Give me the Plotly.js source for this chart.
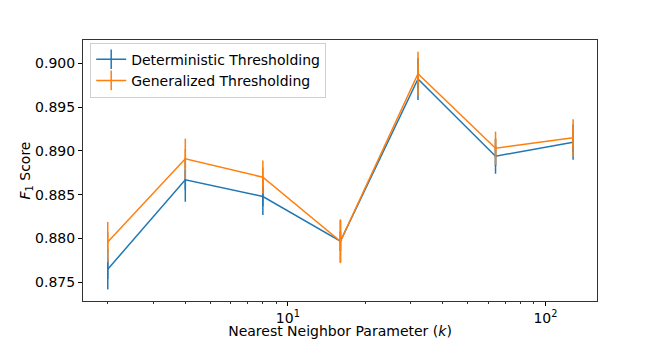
<!DOCTYPE html>
<html>
<head>
<meta charset="utf-8">
<script src="https://cdn.plot.ly/plotly-3.0.1.min.js"></script>
<style>
  html, body { margin: 0; padding: 0; background: #fff; }
  #chart { width: 664px; height: 339px; }
</style>
</head>
<body>
<div id="chart"></div>
<script>
// nearest neighbor parameter k
var k = [2, 4, 8, 16, 32, 64, 128];

// deterministic thresholding
var detF1 = [0.8765, 0.8867, 0.8848, 0.8797, 0.8982, 0.8894, 0.8910];
var detErr = [0.0023, 0.0025, 0.0021, 0.0024, 0.0024, 0.0020, 0.0020];

// generalized thresholding
var genF1 = [0.8796, 0.8891, 0.8870, 0.8797, 0.8988, 0.8903, 0.8915];
var genErr = [0.0023, 0.0023, 0.0019, 0.0025, 0.0025, 0.0019, 0.0021];

var yTicks = [0.875, 0.880, 0.885, 0.890, 0.895, 0.900];
var xTicks = [10, 100];
var xTickText = ['10<sup>1</sup>', '10<sup>2</sup>'];
var xMinor = [2, 3, 4, 5, 6, 7, 8, 9, 20, 30, 40, 50, 60, 70, 80, 90, 200];

var blue = '#1f77b4';
var orange = '#ff7f0e';

function series(name, y, err, color) {
    return {
        x : k,
        y : y,
        name : name,
        type : 'scatter',
        mode : 'lines+markers',
        line : {color : color, width : 1.5},
        marker : {symbol : 'line-ns', size : 14, line : {color : color, width : 1.5}},
        error_y : {type : 'data', array : err, visible : true, color : color, thickness : 1.5, width : 0}
    };
}

var data = [
    series('Deterministic Thresholding', detF1, detErr, blue),
    series('Generalized Thresholding', genF1, genErr, orange)
];

var layout = {
    width : 664,
    height : 339,
    autosize : false,
    margin : {l : 83, r : 67, t : 40, b : 38},
    paper_bgcolor : '#fff',
    plot_bgcolor : '#fff',
    font : {family : 'DejaVu Sans', size : 14, color : '#000'},
    showlegend : true,
    legend : {
        x : 0.014, y : 0.99, xanchor : 'left', yanchor : 'top',
        bgcolor : 'rgba(255,255,255,0.8)', bordercolor : '#d0d0d0', borderwidth : 1,
        font : {size : 14}, tracegroupgap : 0
    },
    xaxis : {
        type : 'log',
        range : [0.205, 2.2],
        tickmode : 'array',
        tickvals : xTicks,
        ticktext : xTickText,
        ticks : 'outside', ticklen : 4, tickwidth : 1, tickcolor : '#000',
        minor : {tickmode : 'array', tickvals : xMinor, ticks : 'outside', ticklen : 2, tickwidth : 0.8, tickcolor : '#000'},
        showgrid : false, zeroline : false,
        showline : true, linecolor : '#333', linewidth : 1, mirror : true,
        title : {text : 'Nearest Neighbor Parameter (<i>k</i>)', font : {size : 14}, standoff : 0}
    },
    yaxis : {
        range : [0.87288, 0.90265],
        tickmode : 'array',
        tickvals : yTicks,
        tickformat : '.3f',
        ticks : 'outside', ticklen : 4, tickwidth : 1, tickcolor : '#000',
        showgrid : false, zeroline : false,
        showline : true, linecolor : '#333', linewidth : 1, mirror : true,
        title : {text : '<i>F</i><sub>1</sub> Score', font : {size : 14}, standoff : 0}
    }
};

Plotly.newPlot('chart', data, layout, {displayModeBar : false, staticPlot : true});
</script>
</body>
</html>
